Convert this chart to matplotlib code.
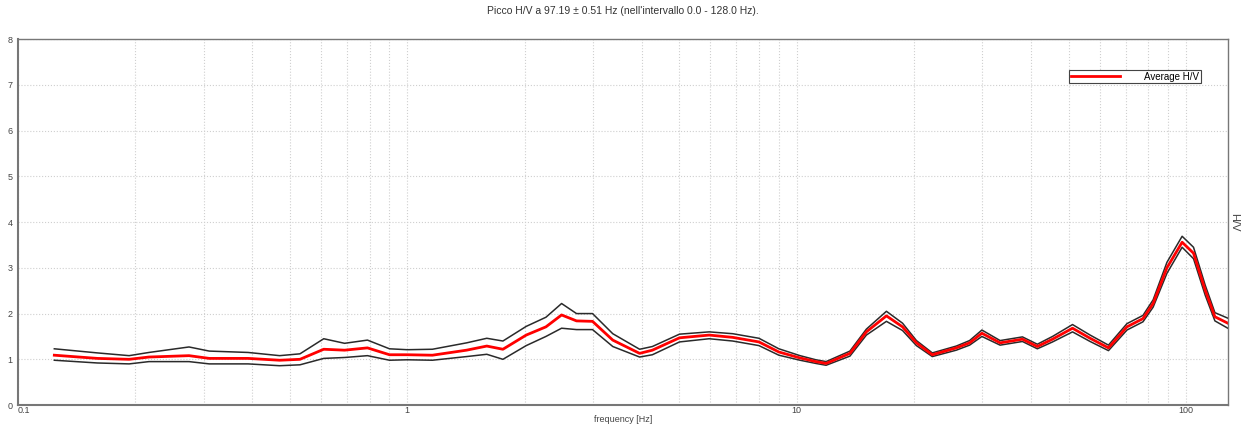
import matplotlib
matplotlib.use("Agg")
import matplotlib.pyplot as plt
from matplotlib.ticker import LogLocator, FixedLocator, FixedFormatter, NullFormatter

plt.rcParams['font.family'] = ['Liberation Sans', 'DejaVu Sans']

freq = [0.124, 0.16, 0.193, 0.217, 0.275, 0.31, 0.39, 0.47, 0.53, 0.61, 0.69, 0.79, 0.9, 1.0,
        1.16, 1.42, 1.6, 1.76, 2.02, 2.27, 2.49, 2.72, 2.99, 3.37, 3.95, 4.26, 5.0, 5.96, 6.85,
        8.0, 9.0, 10.2, 11.2, 11.9, 13.7, 15.1, 17.0, 18.7, 20.3, 22.3, 25.7, 27.8, 29.9, 33.3,
        38.0, 41.5, 45.4, 51.1, 56.7, 63.2, 70.5, 77.5, 82.3, 89.3, 97.7, 104.5, 112, 118.6, 128]
avg = [1.09, 1.02, 1.0, 1.05, 1.08, 1.02, 1.02, 0.98, 1.0, 1.22, 1.2, 1.25, 1.1, 1.1,
       1.09, 1.2, 1.29, 1.22, 1.53, 1.71, 1.97, 1.84, 1.83, 1.42, 1.13, 1.2, 1.47, 1.53, 1.48,
       1.38, 1.16, 1.03, 0.95, 0.91, 1.13, 1.6, 1.95, 1.71, 1.36, 1.1, 1.25, 1.36, 1.57, 1.36,
       1.44, 1.28, 1.44, 1.68, 1.46, 1.25, 1.71, 1.89, 2.22, 3.0, 3.56, 3.32, 2.51, 1.93, 1.79]
upper = [1.23, 1.14, 1.08, 1.15, 1.27, 1.18, 1.15, 1.08, 1.12, 1.45, 1.35, 1.42, 1.23, 1.21,
         1.22, 1.36, 1.46, 1.4, 1.72, 1.92, 2.22, 2.0, 2.0, 1.56, 1.22, 1.28, 1.55, 1.6, 1.56,
         1.46, 1.23, 1.08, 0.99, 0.95, 1.18, 1.66, 2.05, 1.79, 1.41, 1.14, 1.29, 1.41, 1.64, 1.41,
         1.49, 1.33, 1.5, 1.76, 1.53, 1.31, 1.78, 1.96, 2.3, 3.12, 3.69, 3.45, 2.62, 2.02, 1.9]
lower = [0.98, 0.92, 0.9, 0.95, 0.95, 0.9, 0.9, 0.86, 0.88, 1.02, 1.04, 1.08, 0.98, 0.99,
         0.98, 1.06, 1.11, 1.0, 1.3, 1.5, 1.68, 1.65, 1.65, 1.28, 1.05, 1.1, 1.38, 1.45, 1.4,
         1.3, 1.09, 0.98, 0.91, 0.87, 1.07, 1.53, 1.83, 1.63, 1.3, 1.06, 1.2, 1.31, 1.5, 1.31,
         1.39, 1.23, 1.38, 1.6, 1.39, 1.19, 1.64, 1.82, 2.14, 2.88, 3.45, 3.2, 2.4, 1.84, 1.68]

fig = plt.figure(figsize=(12.46, 4.30), dpi=100)
ax = fig.add_axes([0.0144, 0.058, 0.971, 0.851])

ax.plot(freq, upper, color="#2a2a2a", lw=1.1)
ax.plot(freq, lower, color="#2a2a2a", lw=1.1)
ax.plot(freq, avg, color="#ff0000", lw=2.0, label="Average H/V")

ax.set_xscale("log")
ax.set_xlim(0.1, 128)
ax.set_ylim(0, 8)
ax.xaxis.set_major_locator(FixedLocator([0.1, 1, 10, 100]))
ax.xaxis.set_major_formatter(FixedFormatter(["0.1", "1", "10", "100"]))
ax.xaxis.set_minor_locator(LogLocator(base=10, subs=range(2, 10)))
ax.xaxis.set_minor_formatter(NullFormatter())
ax.set_yticks(range(0, 9))

ax.grid(True, which="both", axis="x", color="#cfcfcf", ls=":", lw=0.8)
ax.grid(True, which="major", axis="y", color="#cfcfcf", ls=":", lw=0.8)
ax.tick_params(which="both", length=0, labelsize=6.5, colors="#444444")
ax.tick_params(axis="x", pad=1)
ax.tick_params(axis="y", pad=4)
# nudge the first x label right so it does not sit on the "0"
ax.get_xticklabels()[0].set_horizontalalignment("left")

for s in ax.spines.values():
    s.set_color("#777777")
    s.set_linewidth(1.0)
ax.spines["left"].set_linewidth(1.5)
ax.spines["bottom"].set_linewidth(1.5)

ax.set_title("Picco H/V a 97.19 \u00b1 0.51 Hz (nell'intervallo 0.0 - 128.0 Hz).",
             fontsize=7.5, color="#333333", pad=18)
ax.set_xlabel("frequency [Hz]", fontsize=6.5, color="#444444", labelpad=0)
ax.yaxis.set_label_position("right")
ax.set_ylabel("H/V", fontsize=8, color="#444444", rotation=-90, labelpad=8)

leg = ax.legend(loc="upper right", bbox_to_anchor=(0.982, 0.93), fontsize=7, fancybox=False,
                framealpha=1, edgecolor="#444444", handlelength=5, borderpad=0.2,
                handletextpad=2.5)
leg.get_frame().set_linewidth(0.8)

fig.savefig("out.png", dpi=100)
